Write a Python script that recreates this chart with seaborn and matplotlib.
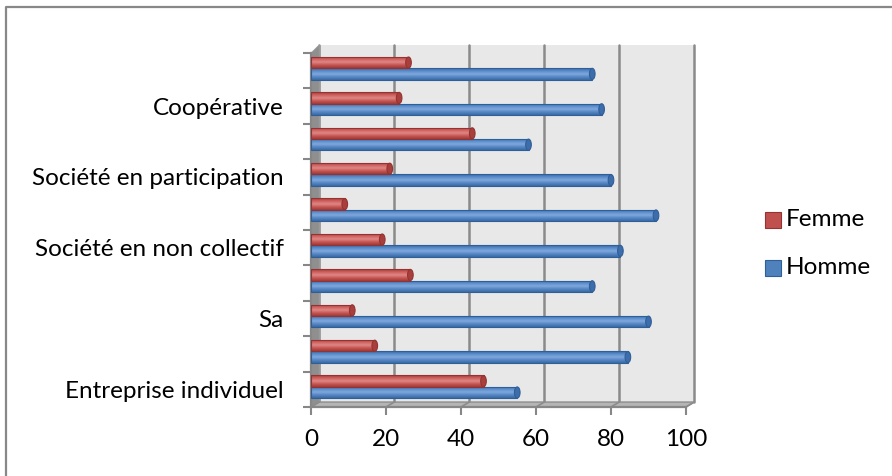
import numpy as np
import pandas as pd
import matplotlib
matplotlib.use("Agg")
import matplotlib.pyplot as plt
import seaborn as sns
from matplotlib.patches import Polygon, Rectangle, Ellipse
from matplotlib.lines import Line2D
from matplotlib.colors import LinearSegmentedColormap

# Categories from bottom to top; only every other one carries a label
rangs = list(range(10))
etiquettes = ["Entreprise individuel", "", "Sa", "", "Société en non collectif", "",
              "Société en participation", "", "Coopérative", ""]
homme = [55, 84.5, 90, 75, 82.5, 92, 80, 58, 77.5, 75]
femme = [46, 17, 11, 26.5, 19, 9, 21, 43, 23.5, 26]
graduations = [0, 20, 40, 60, 80, 100]

couleurs = {"Homme": "#4F81BD", "Femme": "#C0504D"}
bords = {"Homme": "#2F5F99", "Femme": "#943331"}
degrades = {
    "Homme": ["#3A6AA6", "#5B8DCC", "#7FA8DC", "#5586C4", "#3C6AA2"],
    "Femme": ["#A33C39", "#D0615E", "#DE8886", "#C65552", "#A03A37"],
}
bouts = {"Homme": "#3D6DAA", "Femme": "#A83F3C"}

df = pd.DataFrame({
    "rang": rangs * 2,
    "valeur": homme + femme,
    "sexe": ["Homme"] * len(homme) + ["Femme"] * len(femme),
})

sns.set_theme(style="white")
plt.rcParams["font.family"] = ["Lato", "DejaVu Sans"]
police = 17.5

W, H = 892, 476
fig = plt.figure(figsize=(W / 100, H / 100), dpi=100)
ax = fig.add_axes([311 / W, 1 - 407 / H, 375 / W, 354 / H])
ax.set_facecolor("none")

sns.barplot(data=df, x="valeur", y="rang", hue="sexe", hue_order=["Homme", "Femme"],
            order=rangs, orient="h", palette=couleurs, width=0.64, legend=False,
            linewidth=0, ax=ax, zorder=3)

ax.set_xlim(0, 100)
ax.set_ylim(-0.5, 9.5)

# cylinder shading: gradient clipped to each bar, shifted up for the depth effect,
# with a rounded cap at the end of each bar
decal_y = 0.07
n = len(rangs)
for k, p in enumerate(ax.patches[:2 * n]):
    serie = "Homme" if k < n else "Femme"
    p.set_y(p.get_y() + decal_y)
    x0, y0, w, h = p.get_x(), p.get_y(), p.get_width(), p.get_height()
    cmap = LinearSegmentedColormap.from_list(serie, degrades[serie][::-1])
    grad = np.linspace(0, 1, 64).reshape(-1, 1)
    im = ax.imshow(grad, cmap=cmap, aspect="auto", origin="lower",
                   extent=[x0, x0 + w, y0, y0 + h], zorder=3.5, interpolation="bilinear")
    im.set_clip_path(p)
    ax.add_patch(Rectangle((x0, y0), w, h, fill=False, edgecolor=bords[serie],
                           linewidth=0.8, zorder=3.6))
    ax.add_patch(Ellipse((x0 + w, y0 + h / 2), 1.5, h * 0.98, facecolor=bouts[serie],
                         edgecolor=bords[serie], linewidth=0.8, zorder=3.7))

# 3D walls: back wall, left wall and floor
dx, y_bas, y_haut = 2.2, -0.36, 9.73
ax.add_patch(Rectangle((dx, y_bas), 100, y_haut - y_bas, facecolor="#E8E8E8",
                       edgecolor="none", zorder=0, clip_on=False))
for v in graduations:
    ax.add_line(Line2D([v + dx, v + dx], [y_bas, y_haut], color="#8A8A8A", lw=1.8,
                       zorder=1, clip_on=False))
ax.add_patch(Polygon([(0, -0.5), (dx, y_bas), (dx, y_haut), (0, 9.5)], closed=True,
                     facecolor="#8F8F8F", edgecolor="#A0A0A0", lw=0.6, zorder=2,
                     clip_on=False))
ax.add_patch(Polygon([(0, -0.5), (100, -0.5), (100 + dx, y_bas), (dx, y_bas)], closed=True,
                     facecolor="#B5B5B5", edgecolor="#8C8C8C", lw=1.0, zorder=2,
                     clip_on=False))
for v in graduations:
    ax.add_line(Line2D([v, v + dx], [-0.5, y_bas], color="#8C8C8C", lw=1.2, zorder=2.1,
                       clip_on=False))

for s in ["top", "right"]:
    ax.spines[s].set_visible(False)
for s in ["left", "bottom"]:
    ax.spines[s].set_color("#878787")
    ax.spines[s].set_linewidth(1.6)
    ax.spines[s].set_zorder(2.5)

ax.set_xticks(graduations)
ax.set_xticklabels([str(v) for v in graduations], fontsize=police, color="black")
ax.tick_params(axis="x", direction="out", length=5.5, width=1.5, color="#878787", pad=10,
               bottom=True)

ax.set_yticks([i for i in rangs if etiquettes[i]])
ax.set_yticklabels([e for e in etiquettes if e], fontsize=police, color="black")
ax.set_yticks([i - 0.5 for i in rangs] + [9.5], minor=True)
ax.tick_params(axis="y", which="major", length=0, pad=19.5, left=True)
ax.tick_params(axis="y", which="minor", direction="out", length=6, width=1.5,
               color="#878787", left=True)
ax.set_xlabel("")
ax.set_ylabel("")

# legend
for yc, serie in [(220, "Femme"), (268, "Homme")]:
    fig.patches.append(Rectangle((765 / W, 1 - (yc + 8) / H), 16 / W, 16 / H,
                                 transform=fig.transFigure, facecolor=couleurs[serie],
                                 edgecolor=bords[serie], lw=0.8))
    fig.text(786 / W, 1 - yc / H, serie, fontsize=police, va="center", ha="left",
             color="black")

# chart frame
fig.lines.append(Line2D([6 / W, 6 / W, 1], [0, 1 - 7 / H, 1 - 7 / H],
                        transform=fig.transFigure, color="#888888", lw=1.6))

fig.savefig("out.png", dpi=100)
